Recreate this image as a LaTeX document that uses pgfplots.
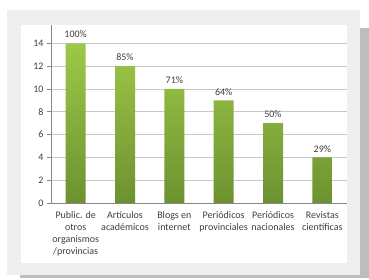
\documentclass[border=0pt]{standalone}
\usepackage{pgfplots}
\pgfplotsset{compat=1.18}
\usepackage{fontspec}
\setmainfont{Carlito}
\definecolor{bgpanel}{HTML}{EFEFEF}
\definecolor{shadow}{HTML}{BDBDBD}
\definecolor{txt}{HTML}{404040}
\definecolor{axisgray}{HTML}{868686}
\definecolor{gridgray}{HTML}{C8C8C8}
\definecolor{bartop}{RGB}{158,200,72}
\definecolor{barbot}{RGB}{108,146,48}
\begin{document}
\begin{tikzpicture}[x=1bp,y=1bp]
\useasboundingbox (0,0) rectangle (369,280);
\fill[shadow] (20,2) rectangle (369,252);
\fill[bgpanel] (7,5) rectangle (360,270);
\fill[white] (21,17) rectangle (347,255);
\begin{axis}[
  at={(51bp,77bp)}, anchor=south west,
  scale only axis, width=296bp, height=178bp,
  xmin=-0.5, xmax=5.5, ymin=0, ymax=15.6,
  axis x line*=bottom, axis y line*=left,
  axis line style={axisgray, line width=0.6pt},
  ytick={0,2,...,14},
  ymajorgrids, grid style={gridgray, line width=0.6pt},
  tick align=outside,
  major tick length=4bp, minor tick length=4bp,
  tick style={axisgray, line width=0.6pt},
  xtick={0,...,5},
  xtick style={draw=none},
  minor xtick={-0.5,0.5,...,5.5},
  minor tick style={axisgray, line width=0.6pt},
  xticklabels={{Public. de\\otros\\organismos\\/provincias},{Artículos\\académicos},{Blogs en\\internet},{Periódicos\\provinciales},{Periódicos\\nacionales},{Revistas\\científicas}},
  xticklabel style={align=center, font=\fontsize{10bp}{12bp}\selectfont, text=txt, anchor=north, yshift=-1bp},
  yticklabel style={font=\fontsize{10bp}{12bp}\selectfont, text=txt},
  /pgf/number format/assume math mode=true,
  nodes near coords,
  point meta=explicit symbolic,
  every node near coord/.style={font=\fontsize{10bp}{12bp}\selectfont, text=txt, anchor=south, inner sep=0pt, yshift=5bp},
]
\addplot[ybar, bar width=20bp, draw=none, top color=bartop, bottom color=barbot]
  coordinates {(0,14) [100\%] (1,12) [85\%] (2,10) [71\%] (3,9) [64\%] (4,7) [50\%] (5,4) [29\%]};
\end{axis}
\end{tikzpicture}
\end{document}
